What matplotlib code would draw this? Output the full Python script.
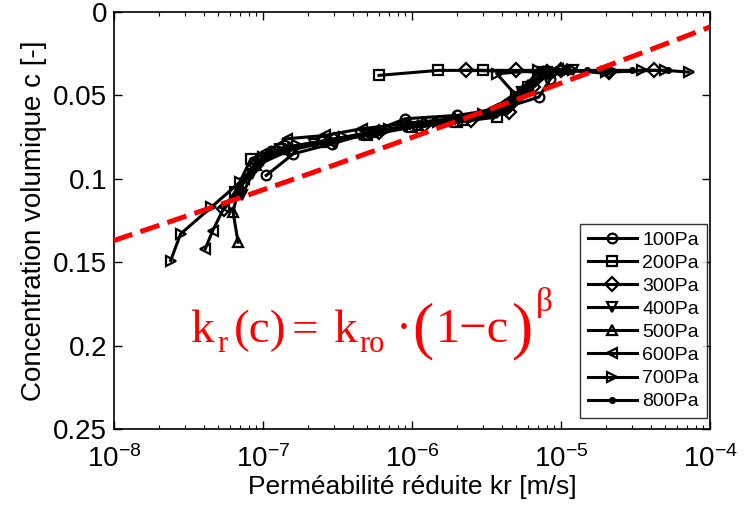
import numpy as np
import matplotlib
matplotlib.use("Agg")
import matplotlib.pyplot as plt
from matplotlib.ticker import LogLocator, NullFormatter, FixedLocator, FixedFormatter

plt.rcParams['font.family'] = ['Liberation Sans', 'DejaVu Sans']
plt.rcParams['mathtext.fontset'] = 'custom'
plt.rcParams['mathtext.rm'] = 'Liberation Serif'
plt.rcParams['mathtext.it'] = 'Liberation Serif:italic'

labels = ['100Pa', '200Pa', '300Pa', '400Pa', '500Pa', '600Pa', '700Pa', '800Pa']
markers = ['o', 's', 'D', 'v', '^', '<', '>', '.']

kr_100 = [1.05e-7, 1.6e-7, 2.9e-7, 5e-7, 9e-7, 2e-6, 4e-6, 7.1e-6, 8.5e-6, 1.0e-5]
c_100 = [0.098, 0.085, 0.079, 0.073, 0.064, 0.062, 0.058, 0.051, 0.040, 0.035]

kr_200 = [6.5e-8, 8.3e-8, 1.3e-7, 2.5e-7, 5e-7, 1e-6, 2e-6, 3.7e-6, 6e-6, 8e-6, 3e-6, 1.5e-6, 6e-7]
c_200 = [0.108, 0.088, 0.082, 0.078, 0.074, 0.069, 0.066, 0.063, 0.045, 0.036, 0.035, 0.035, 0.038]

kr_300 = [5.5e-8, 9e-8, 1.5e-7, 3e-7, 6e-7, 1.2e-6, 2.5e-6, 4.5e-6, 6.5e-6, 8e-6, 2.3e-6, 5e-6, 1e-5, 2.1e-5, 4.2e-5]
c_300 = [0.118, 0.092, 0.083, 0.077, 0.072, 0.068, 0.065, 0.060, 0.045, 0.036, 0.035, 0.035, 0.035, 0.036, 0.035]

kr_400 = [7.2e-8, 8.5e-8, 1.2e-7, 2.2e-7, 4.5e-7, 9e-7, 1.8e-6, 3.5e-6, 5.5e-6, 7.5e-6, 1.2e-5, 2.1e-5]
c_400 = [0.110, 0.097, 0.084, 0.079, 0.074, 0.069, 0.066, 0.062, 0.048, 0.036, 0.035, 0.037]

kr_500 = [6.8e-8, 6.3e-8, 6.8e-8, 9e-8, 1.4e-7, 2.7e-7, 5.5e-7, 1.1e-6, 2.2e-6, 4e-6, 6e-6, 8e-6, 1.1e-5]
c_500 = [0.138, 0.120, 0.107, 0.092, 0.082, 0.077, 0.072, 0.068, 0.065, 0.058, 0.044, 0.035, 0.034]

kr_600 = [4.1e-8, 4.6e-8, 5.5e-8, 7.5e-8, 1.05e-7, 1.45e-7, 2.6e-7, 4.6e-7, 9e-7, 1.8e-6, 3.5e-6, 5.5e-6, 7e-6, 9.5e-6]
c_600 = [0.142, 0.131, 0.117, 0.100, 0.084, 0.076, 0.074, 0.070, 0.067, 0.064, 0.058, 0.046, 0.036, 0.034]

kr_700 = [2.4e-8, 2.8e-8, 4.5e-8, 7e-8, 1.0e-7, 1.7e-7, 3.5e-7, 7e-7, 1.5e-6, 3e-6, 5e-6, 3.7e-6, 7e-6, 1.2e-5, 2e-5, 3.5e-5, 5e-5, 7.2e-5]
c_700 = [0.149, 0.133, 0.117, 0.102, 0.087, 0.080, 0.075, 0.070, 0.066, 0.061, 0.050, 0.037, 0.035, 0.035, 0.036, 0.035, 0.035, 0.036]

kr_800 = [7e-8, 9.5e-8, 1.4e-7, 2.8e-7, 6e-7, 1.2e-6, 2.4e-6, 4.2e-6, 6.2e-6, 8.5e-6, 1.5e-5, 3e-5, 5.2e-5]
c_800 = [0.105, 0.090, 0.081, 0.077, 0.072, 0.067, 0.064, 0.060, 0.047, 0.036, 0.035, 0.035, 0.035]

series_kr = [kr_100, kr_200, kr_300, kr_400, kr_500, kr_600, kr_700, kr_800]
series_c = [c_100, c_200, c_300, c_400, c_500, c_600, c_700, c_800]

# fitted law k_r(c) = k_ro (1-c)^beta
kro = 10 ** (-3.739)
beta = 66.6
c_fit = np.linspace(0.0, 0.16, 200)
kr_fit = kro * (1 - c_fit) ** beta

x_ticks = [1e-8, 1e-7, 1e-6, 1e-5, 1e-4]
x_ticklabels = [r'$\mathdefault{10^{-8}}$', r'$\mathdefault{10^{-7}}$', r'$\mathdefault{10^{-6}}$',
                r'$\mathdefault{10^{-5}}$', r'$\mathdefault{10^{-4}}$']
y_ticks = [0, 0.05, 0.1, 0.15, 0.2, 0.25]
y_ticklabels = ['0', '0.05', '0.1', '0.15', '0.2', '0.25']

W, H = 748, 508
fig = plt.figure(figsize=(W / 100, H / 100), dpi=100)
ax = fig.add_axes([114 / W, 1 - 429 / H, 596 / W, 417 / H])

for kr, c, m, lab in zip(series_kr, series_c, markers, labels):
    ax.plot(kr, c, color='black', lw=2.2, marker=m, ms=7, mfc='none',
            mec='black', mew=1.6, label=lab)

ax.plot(kr_fit, c_fit, color='red', lw=3.6, ls=(0, (4.0, 1.7)), zorder=5)

ax.set_xscale('log')
ax.set_xlim(1e-8, 1e-4)
ax.set_ylim(0.25, 0)
ax.xaxis.set_major_locator(FixedLocator(x_ticks))
ax.xaxis.set_major_formatter(FixedFormatter(x_ticklabels))
ax.xaxis.set_minor_locator(LogLocator(base=10, subs=np.arange(2, 10)))
ax.xaxis.set_minor_formatter(NullFormatter())
ax.set_yticks(y_ticks)
ax.set_yticklabels(y_ticklabels)
ax.tick_params(which='major', direction='in', length=6, width=1, labelsize=20,
               top=True, right=True, pad=5)
ax.tick_params(axis='x', which='major', pad=12)
ax.tick_params(which='minor', direction='in', length=3, width=0.8, top=True, right=True)
for s in ax.spines.values():
    s.set_linewidth(1.2)

ax.set_xlabel('Perméabilité réduite kr [m/s]', fontsize=19, labelpad=1)
ax.set_ylabel('Concentration volumique c [-]', fontsize=20, labelpad=4)

leg = ax.legend(loc='lower right', bbox_to_anchor=(0.995, 0.026), fontsize=14,
                frameon=True, fancybox=False, edgecolor='black', handlelength=2.5,
                borderpad=0.4, labelspacing=0.28, handletextpad=0.3, borderaxespad=0)
leg.get_frame().set_linewidth(1)


def put(px, py, s, size):
    fig.text(px / W, 1 - py / H, s, color='red', fontsize=size, ha='left',
             va='baseline', family='Liberation Serif')


put(190, 342, 'k', 34)
put(217, 352, 'r', 22)
put(234, 342, '(c)', 34)
put(292, 342, '=', 34)
put(333, 342, 'k', 34)
put(359, 352, 'ro', 22)
put(396, 342, '·', 34)
put(412, 346, '(', 46)
put(436, 342, '1−c', 35)
put(512, 346, ')', 46)
put(536, 311, 'β', 24)

fig.savefig('out.png', dpi=100)
